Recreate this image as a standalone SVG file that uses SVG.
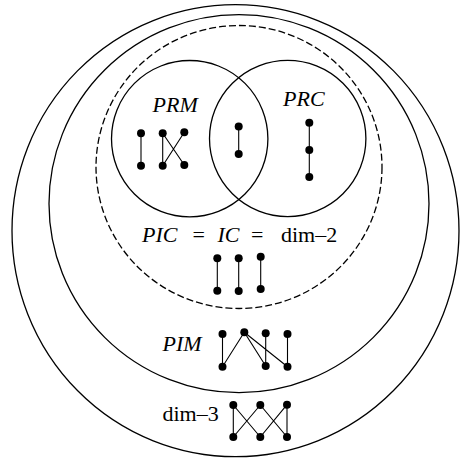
<svg xmlns="http://www.w3.org/2000/svg" width="460" height="459" viewBox="0 0 460 459">
<style>
.set{fill:none;stroke:#000;stroke-width:1.3}
.dash{stroke-dasharray:7 3}
.e{stroke:#000;stroke-width:1.1;fill:none}
.v{fill:#000}
.v circle{r:4px}
.t{font-family:"Liberation Serif","Times New Roman",serif;font-size:22px;fill:#000}
.i{font-style:italic}
</style>
<rect width="460" height="459" fill="#fff"/>
<g id="set-dim3"><ellipse class="set" cx="235.5" cy="230.7" rx="223.5" ry="226"/><text class="t" x="162.5" y="420.5">dim–3</text></g>
<g id="set-pim"><ellipse class="set" cx="239" cy="203.7" rx="190" ry="189"/><text class="t i" x="162.5" y="350.5">PIM</text></g>
<g id="set-pic"><ellipse class="set dash" cx="239" cy="167" rx="143" ry="141.5"/><text class="t" y="242"><tspan class="i" x="142">PIC</tspan><tspan x="192.6">=</tspan><tspan class="i" x="217.5">IC</tspan><tspan x="251">=</tspan><tspan x="281">dim–2</tspan></text></g>
<g id="set-prm"><circle class="set" cx="189.7" cy="138.7" r="78.2"/><text class="t i" x="152.5" y="112">PRM</text></g>
<g id="set-prc"><circle class="set" cx="287.7" cy="138.5" r="78.2"/><text class="t i" x="283" y="106">PRC</text></g>
<g id="connectors">
<path class="e" d="M141 133.3V165.7M162.7 133.3V165.7M162.7 133.3L184.3 165M184.3 132.3L162.7 165.7"/>
<path class="e" d="M238.7 126.5V154"/>
<path class="e" d="M309.3 122.7V177"/>
<path class="e" d="M217.3 258.3V290.7M238.7 258.3V291M260.7 256.7V289"/>
<path class="e" d="M222.5 334V366.7L244.3 332.3L265.7 366M244.3 332.3L287.5 366.7M265.7 333.3V366M287.5 334V366.7"/>
<path class="e" d="M233.3 405V437M287 404.7V437M233.3 405L260.3 437M260.3 405L233.3 437M260.3 405L287 437M287 404.7L260.3 437"/>
</g>
<g id="graph-prm" class="v"><circle cx="141" cy="133.3" r="4"/><circle cx="141" cy="165.7" r="4"/><circle cx="162.7" cy="133.3" r="4"/><circle cx="162.7" cy="165.7" r="4"/><circle cx="184.3" cy="132.3" r="4"/><circle cx="184.3" cy="165" r="4"/></g>
<g id="graph-both" class="v"><circle cx="238.7" cy="126.5" r="4"/><circle cx="238.7" cy="154" r="4"/></g>
<g id="graph-prc" class="v"><circle cx="309.3" cy="122.7" r="4"/><circle cx="309.3" cy="150" r="4"/><circle cx="309.3" cy="177" r="4"/></g>
<g id="graph-pic" class="v"><circle cx="217.3" cy="258.3" r="4"/><circle cx="217.3" cy="290.7" r="4"/><circle cx="238.7" cy="258.3" r="4"/><circle cx="238.7" cy="291" r="4"/><circle cx="260.7" cy="256.7" r="4"/><circle cx="260.7" cy="289" r="4"/></g>
<g id="graph-pim" class="v"><circle cx="222.5" cy="334" r="4"/><circle cx="244.3" cy="332.3" r="4"/><circle cx="265.7" cy="333.3" r="4"/><circle cx="287.5" cy="334" r="4"/><circle cx="222.5" cy="366.7" r="4"/><circle cx="265.7" cy="366" r="4"/><circle cx="287.5" cy="366.7" r="4"/></g>
<g id="graph-dim3" class="v"><circle cx="233.3" cy="405" r="4"/><circle cx="260.3" cy="405" r="4"/><circle cx="287" cy="404.7" r="4"/><circle cx="233.3" cy="437" r="4"/><circle cx="260.3" cy="437" r="4"/><circle cx="287" cy="437" r="4"/></g>
</svg>
